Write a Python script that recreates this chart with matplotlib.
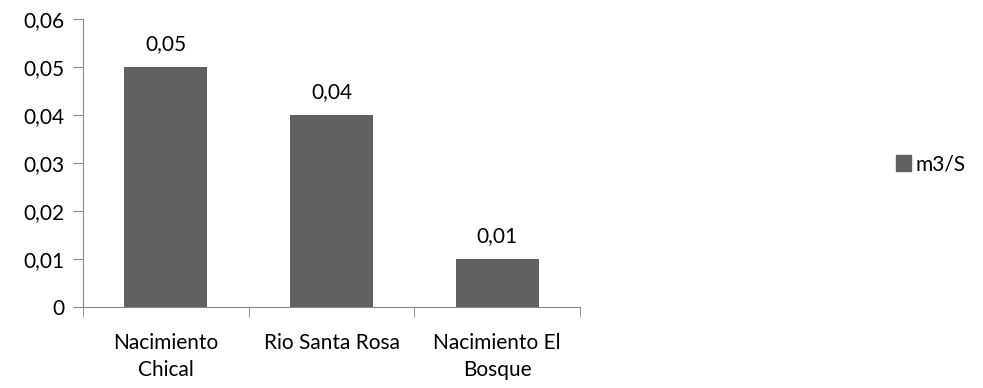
import numpy as np
import matplotlib
matplotlib.use('Agg')
import matplotlib.pyplot as plt
import matplotlib.patches as mpatches
from matplotlib.ticker import FuncFormatter, FixedLocator

plt.rcParams['font.family'] = ['Lato', 'DejaVu Sans']

# caudal por fuente
categories = ['Nacimiento\nChical', 'Rio Santa Rosa', 'Nacimiento El\nBosque']
values = [0.05, 0.04, 0.01]
series_name = 'm3/S'

bar_color = '#606060'
axis_color = '#868686'
fs = 15

def comma(v, pos=None):
    if abs(v) < 1e-12:
        return '0'
    return ('%.2f' % v).replace('.', ',')

fig = plt.figure(figsize=(9.83, 3.88), dpi=100)
ax = fig.add_axes([83 / 983, 1 - 306.7 / 388, (580 - 83) / 983, (306.7 - 19) / 388])

x = np.arange(len(categories))
bars = ax.bar(x, values, width=0.5, color=bar_color)

for xi, v in zip(x, values):
    ax.annotate(comma(v), (xi, v), xytext=(0, 9), textcoords='offset points',
                ha='center', va='bottom', fontsize=fs)

ax.set_xlim(-0.5, len(categories) - 0.5)
ax.set_ylim(0, 0.06)
ax.set_yticks(np.arange(0, 0.061, 0.01))
ax.yaxis.set_major_formatter(FuncFormatter(comma))

ax.set_xticks(x)
ax.set_xticklabels(categories, linespacing=1.45)
ax.xaxis.set_minor_locator(FixedLocator(np.arange(-0.5, len(categories), 1.0)))
ax.tick_params(axis='x', which='major', length=0, pad=19, labelsize=fs)
ax.tick_params(axis='x', which='minor', length=7, color=axis_color, direction='out')
ax.tick_params(axis='y', length=7, color=axis_color, labelsize=fs, pad=6)

for s in ['top', 'right']:
    ax.spines[s].set_visible(False)
for s in ['left', 'bottom']:
    ax.spines[s].set_color(axis_color)

handle = mpatches.Patch(color=bar_color, label=series_name)
fig.legend(handles=[handle], loc='center left', bbox_to_anchor=(896 / 983, 1 - 164 / 388),
           frameon=False, fontsize=fs, handlelength=0.7, handleheight=0.8,
           handletextpad=0.25, borderpad=0, borderaxespad=0)

fig.savefig('out.png', dpi=100)
